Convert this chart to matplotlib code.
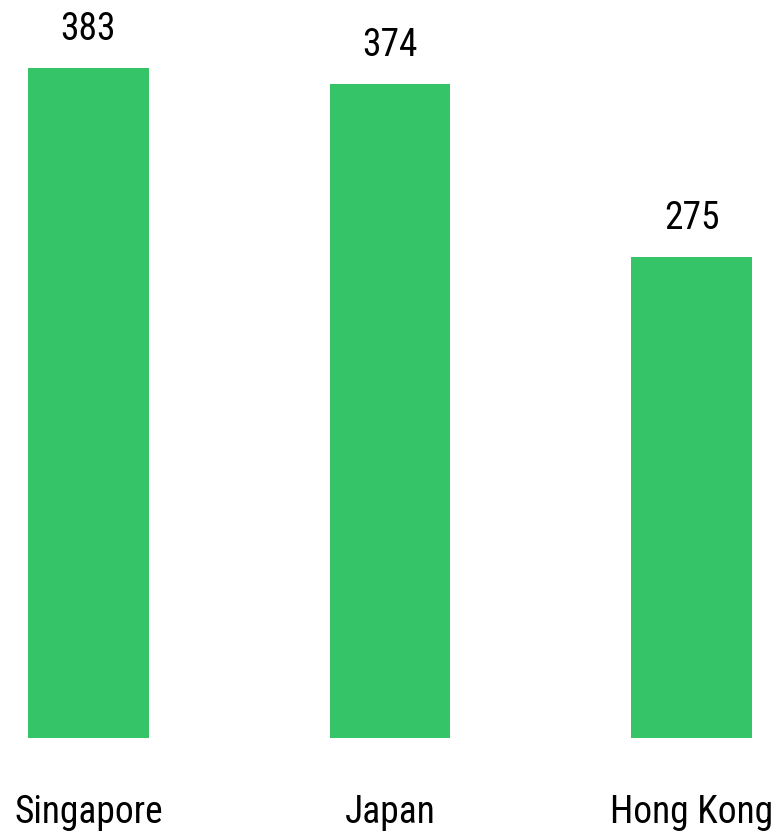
import matplotlib
matplotlib.use("Agg")
import matplotlib.pyplot as plt

countries = ["Singapore", "Japan", "Hong Kong"]
values = [383, 374, 275]

plt.rcParams["font.family"] = ["Roboto Condensed", "Liberation Sans", "DejaVu Sans"]

fig = plt.figure(figsize=(7.82, 8.36), dpi=100)
# axes box runs from the left edge of the first bar to the right edge of the last
ax = fig.add_axes([28 / 782, (836 - 738) / 836, (752 - 28) / 782, (738 - 68) / 836])

x = list(range(len(countries)))
ax.bar(x, values, width=0.4, color="#35C468")
ax.set_xlim(-0.2, 2.2)
ax.set_ylim(0, max(values))

# value labels above each bar
for xi, v in zip(x, values):
    ax.annotate(str(v), (xi, v), xytext=(0, 28), textcoords="offset pixels",
                ha="center", va="baseline", fontsize=27)

ax.set_xticks(x)
ax.set_xticklabels(countries, fontsize=27)
ax.tick_params(axis="x", length=0, pad=40)
ax.set_yticks([])
for s in ax.spines.values():
    s.set_visible(False)

fig.savefig("out.png", dpi=100)
